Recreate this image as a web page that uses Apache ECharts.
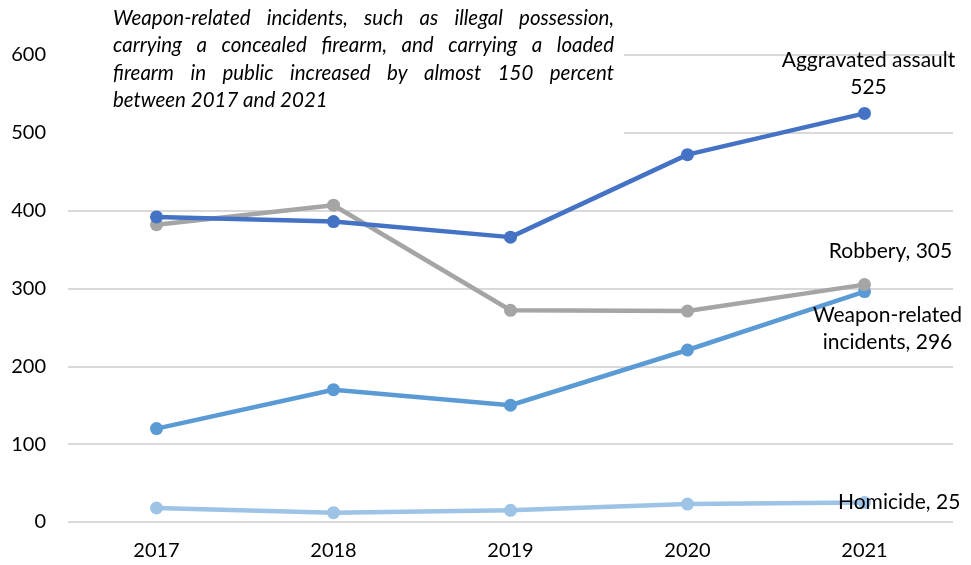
<!DOCTYPE html>
<html>
<head>
<meta charset="utf-8">
<script src="https://cdn.jsdelivr.net/npm/echarts@6/dist/echarts.min.js"></script>
<style>
  html, body { margin: 0; padding: 0; background: #fff; }
  #chart { width: 971px; height: 565px; }
</style>
</head>
<body>
<div id="chart"></div>
<script>
// Reported incidents by year
const years = ['2017', '2018', '2019', '2020', '2021'];
const aggravatedAssault = [392, 386, 366, 472, 525];
const robbery = [382, 407, 272, 271, 305];
const weaponRelated = [120, 170, 150, 221, 296];
const homicide = [18, 12, 15, 23, 25];
const yTicks = [0, 100, 200, 300, 400, 500, 600];

const noteLines = [
  'Weapon-related incidents, such as illegal possession,',
  'carrying a concealed firearm, and carrying a loaded',
  'firearm in public increased by almost 150 percent',
  'between 2017 and 2021'
];

const FONT = 'Lato, "Open Sans", sans-serif';
const chart = echarts.init(document.getElementById('chart'));

// Only the final year carries an end label
function withEndLabel(values, text, labelOpts) {
  return values.map((v, i) => i === values.length - 1
    ? { value: v, label: Object.assign({ show: true, formatter: text, color: '#000', fontSize: 21, fontFamily: FONT, lineHeight: 27 }, labelOpts) }
    : v);
}

function lineSeries(name, values, color, text, labelOpts) {
  return {
    name, type: 'line', data: withEndLabel(values, text, labelOpts),
    symbol: 'circle', symbolSize: 13,
    lineStyle: { color, width: 4.5 },
    itemStyle: { color },
    label: { show: false },
    z: 3
  };
}

// Justified annotation text: words spread to a common line width
const ctx = document.createElement('canvas').getContext('2d');
const noteFont = 'italic 20.5px ' + FONT;
ctx.font = noteFont;
const noteLeft = 113, noteWidth = 501, noteTop = 8, noteLH = 27.5;
const noteElements = [{
  type: 'rect', left: 68, top: 0, z: 10,
  shape: { width: 556, height: 140 }, style: { fill: '#fff' }
}];
noteLines.forEach((line, li) => {
  const words = line.split(' ');
  const last = li === noteLines.length - 1;
  const widths = words.map(w => ctx.measureText(w).width);
  const total = widths.reduce((a, b) => a + b, 0);
  const gap = last ? ctx.measureText(' ').width : (noteWidth - total) / (words.length - 1);
  let x = noteLeft;
  words.forEach((w, wi) => {
    noteElements.push({
      type: 'text', x, y: noteTop + li * noteLH, z: 11,
      style: { text: w, font: noteFont, fill: '#000', textVerticalAlign: 'top' }
    });
    x += widths[wi] + gap;
  });
});

chart.setOption({
  animation: false,
  grid: { left: 68, right: 18, top: 55, bottom: 43, containLabel: false },
  xAxis: {
    type: 'category', data: years, boundaryGap: true,
    axisLine: { show: false }, axisTick: { show: false },
    axisLabel: { color: '#000', fontSize: 20, fontFamily: FONT, margin: 19 }
  },
  yAxis: {
    type: 'value', min: yTicks[0], max: yTicks[yTicks.length - 1], interval: 100,
    axisLine: { show: false }, axisTick: { show: false },
    axisLabel: { color: '#000', fontSize: 20, fontFamily: FONT, margin: 22 },
    splitLine: { lineStyle: { color: '#d9d9d9', width: 2 } }
  },
  series: [
    lineSeries('Homicide', homicide, '#9dc3e6', 'Homicide, ' + homicide[4], { position: 'right', offset: [-38, 0] }),
    lineSeries('Weapon-related incidents', weaponRelated, '#5b9bd5', 'Weapon-related\nincidents, ' + weaponRelated[4], { position: 'bottom', offset: [23, -1], align: 'center' }),
    lineSeries('Robbery', robbery, '#a5a5a5', 'Robbery, ' + robbery[4], { position: 'top', offset: [26, -8] }),
    lineSeries('Aggravated assault', aggravatedAssault, '#4472c4', 'Aggravated assault\n' + aggravatedAssault[4], { position: 'top', offset: [4, -1] })
  ],
  graphic: noteElements
});
</script>
</body>
</html>
